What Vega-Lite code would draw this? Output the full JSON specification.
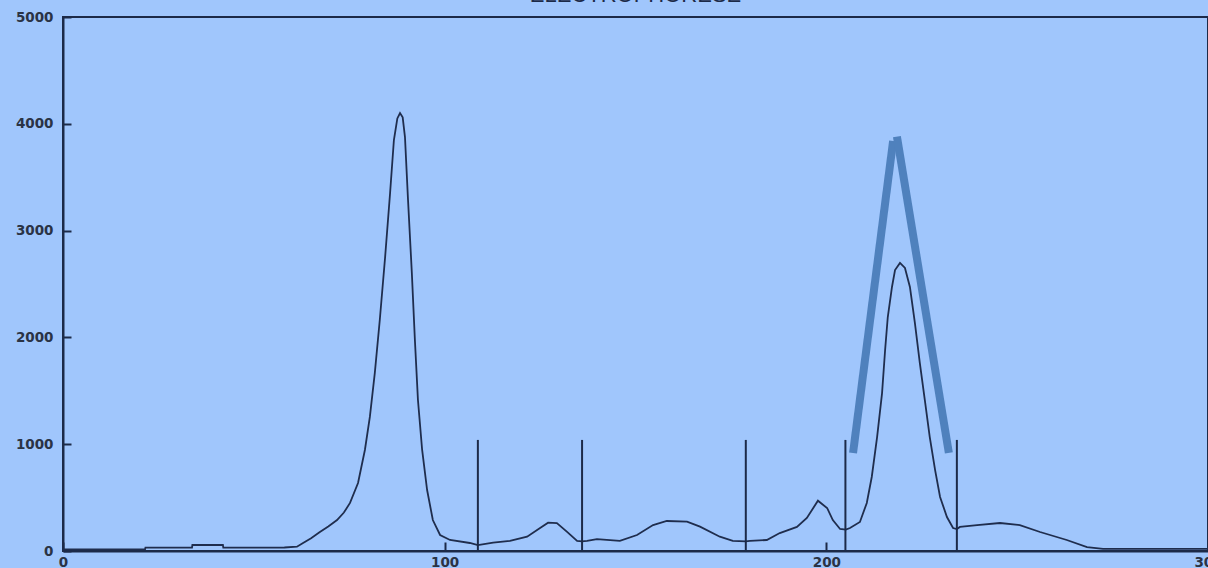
{
  "$schema": "https://vega.github.io/schema/vega-lite/v6.json",
  "width": 1145,
  "height": 534,
  "autosize": {"type": "none"},
  "padding": {"left": 63, "top": 17, "right": 0, "bottom": 17},
  "background": "#a0c6fc",
  "config": {
    "view": {"stroke": "#1c2a48", "strokeWidth": 2, "fill": "#a0c6fc"},
    "axis": {
      "grid": false,
      "domainColor": "#1c2a48",
      "domainWidth": 2,
      "tickColor": "#1c2a48",
      "tickWidth": 2,
      "labelFont": "DejaVu Sans",
      "labelFontWeight": "bold",
      "labelFontSize": 13.5,
      "labelColor": "#2a3345",
      "labelFlush": false
    }
  },
  "title": {
    "text": "ELECTROPHORESE",
    "font": "Liberation Sans",
    "fontSize": 22,
    "fontWeight": "normal",
    "color": "#1c2a48",
    "anchor": "middle",
    "offset": 3
  },
  "datasets": {
    "curve": [
      {"pos": 0, "intensity": 16}, {"pos": 21.5, "intensity": 16}, {"pos": 21.6, "intensity": 31},
      {"pos": 33.8, "intensity": 31}, {"pos": 33.9, "intensity": 56}, {"pos": 41.9, "intensity": 56},
      {"pos": 42.0, "intensity": 31}, {"pos": 58, "intensity": 33}, {"pos": 61.3, "intensity": 40},
      {"pos": 62.9, "intensity": 75}, {"pos": 65.0, "intensity": 120}, {"pos": 67.3, "intensity": 178},
      {"pos": 69.5, "intensity": 230}, {"pos": 71.8, "intensity": 290}, {"pos": 73.6, "intensity": 360},
      {"pos": 75.2, "intensity": 450}, {"pos": 77.3, "intensity": 637}, {"pos": 79.1, "intensity": 946},
      {"pos": 80.4, "intensity": 1255}, {"pos": 81.7, "intensity": 1667}, {"pos": 83.0, "intensity": 2163},
      {"pos": 84.4, "intensity": 2753}, {"pos": 85.7, "intensity": 3352}, {"pos": 86.7, "intensity": 3848},
      {"pos": 87.6, "intensity": 4050}, {"pos": 88.3, "intensity": 4101}, {"pos": 89.0, "intensity": 4060},
      {"pos": 89.6, "intensity": 3876}, {"pos": 90.4, "intensity": 3287},
      {"pos": 91.4, "intensity": 2603}, {"pos": 92.2, "intensity": 1976}, {"pos": 93.0, "intensity": 1414},
      {"pos": 94.1, "intensity": 946}, {"pos": 95.4, "intensity": 571}, {"pos": 96.9, "intensity": 290},
      {"pos": 98.8, "intensity": 150}, {"pos": 101.4, "intensity": 103}, {"pos": 106.6, "intensity": 75},
      {"pos": 108.7, "intensity": 56}, {"pos": 112.7, "intensity": 78}, {"pos": 117.1, "intensity": 94},
      {"pos": 121.6, "intensity": 134}, {"pos": 125.0, "intensity": 215}, {"pos": 127.1, "intensity": 265},
      {"pos": 129.4, "intensity": 262}, {"pos": 132.0, "intensity": 181}, {"pos": 134.7, "intensity": 94},
      {"pos": 136.0, "intensity": 90}, {"pos": 137.3, "intensity": 94}, {"pos": 139.9, "intensity": 112},
      {"pos": 145.9, "intensity": 94}, {"pos": 150.4, "intensity": 150}, {"pos": 154.6, "intensity": 243},
      {"pos": 158.2, "intensity": 281}, {"pos": 163.5, "intensity": 275}, {"pos": 166.9, "intensity": 228},
      {"pos": 172.1, "intensity": 134}, {"pos": 175.5, "intensity": 94}, {"pos": 178.9, "intensity": 90},
      {"pos": 180.0, "intensity": 94}, {"pos": 184.4, "intensity": 103}, {"pos": 187.8, "intensity": 168},
      {"pos": 192.3, "intensity": 225}, {"pos": 194.9, "intensity": 309}, {"pos": 197.8, "intensity": 471},
      {"pos": 200.2, "intensity": 403}, {"pos": 201.7, "intensity": 290}, {"pos": 203.6, "intensity": 206},
      {"pos": 205.1, "intensity": 200}, {"pos": 206.2, "intensity": 215}, {"pos": 208.8, "intensity": 272},
      {"pos": 210.6, "intensity": 450}, {"pos": 211.9, "intensity": 693}, {"pos": 213.3, "intensity": 1067},
      {"pos": 214.6, "intensity": 1479}, {"pos": 215.4, "intensity": 1882}, {"pos": 216.1, "intensity": 2191},
      {"pos": 217.2, "intensity": 2472}, {"pos": 218.0, "intensity": 2631}, {"pos": 219.3, "intensity": 2697},
      {"pos": 220.6, "intensity": 2650}, {"pos": 221.9, "intensity": 2472}, {"pos": 223.2, "intensity": 2135},
      {"pos": 224.5, "intensity": 1760}, {"pos": 225.8, "intensity": 1414}, {"pos": 227.1, "intensity": 1067},
      {"pos": 228.5, "intensity": 758}, {"pos": 229.8, "intensity": 506}, {"pos": 231.6, "intensity": 318},
      {"pos": 233.2, "intensity": 215}, {"pos": 234.2, "intensity": 206}, {"pos": 235.0, "intensity": 225},
      {"pos": 239.5, "intensity": 243}, {"pos": 245.5, "intensity": 262}, {"pos": 250.7, "intensity": 243},
      {"pos": 256.0, "intensity": 178}, {"pos": 263.0, "intensity": 103}, {"pos": 268.3, "intensity": 37},
      {"pos": 272.5, "intensity": 19}, {"pos": 300, "intensity": 19}
    ],
    "seps": [
      {"pos": 108.7, "top": 1040}, {"pos": 136.0, "top": 1040}, {"pos": 178.9, "top": 1040},
      {"pos": 205.0, "top": 1040}, {"pos": 234.2, "top": 1040}
    ],
    "ann": [
      {"stroke": "left", "pos": 207.0, "intensity": 918},
      {"stroke": "left", "pos": 217.5, "intensity": 3840},
      {"stroke": "right", "pos": 218.5, "intensity": 3880},
      {"stroke": "right", "pos": 232.1, "intensity": 918}
    ]
  },
  "layer": [
    {
      "data": {"name": "curve"},
      "mark": {"type": "line", "color": "#1f2d4d", "strokeWidth": 1.8},
      "encoding": {
        "x": {
          "field": "pos", "type": "quantitative",
          "scale": {"domain": [0, 300], "nice": false},
          "axis": {"title": null, "values": [0, 100, 200, 300], "tickSize": -9, "labelPadding": 13}
        },
        "y": {
          "field": "intensity", "type": "quantitative",
          "scale": {"domain": [0, 5000], "nice": false},
          "axis": {"title": null, "format": "d", "values": [0, 1000, 2000, 3000, 4000, 5000], "tickSize": -8, "labelPadding": 18}
        }
      }
    },
    {
      "data": {"name": "seps"},
      "mark": {"type": "rule", "color": "#1c2a48", "strokeWidth": 2},
      "encoding": {
        "x": {"field": "pos", "type": "quantitative"},
        "y": {"field": "top", "type": "quantitative"},
        "y2": {"datum": 0}
      }
    },
    {
      "data": {"name": "ann"},
      "mark": {"type": "line", "color": "#4f81bd", "strokeWidth": 8, "strokeCap": "butt"},
      "encoding": {
        "x": {"field": "pos", "type": "quantitative"},
        "y": {"field": "intensity", "type": "quantitative"},
        "detail": {"field": "stroke", "type": "nominal"}
      }
    }
  ]
}
